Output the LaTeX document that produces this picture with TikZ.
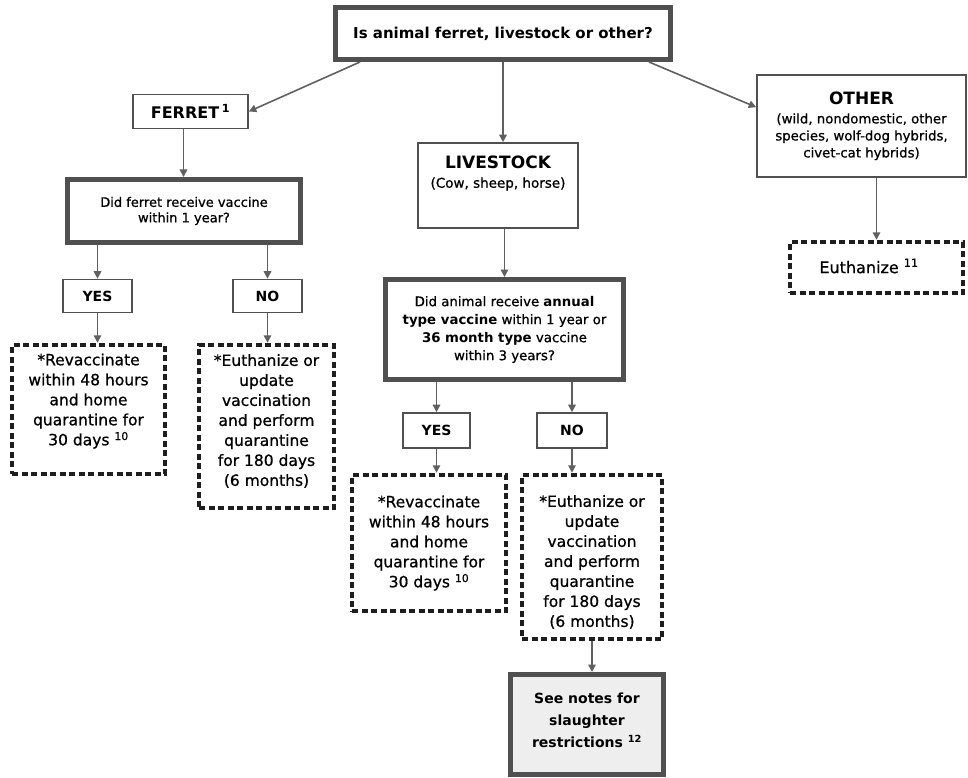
\documentclass[tikz,border=0pt]{standalone}
\usepackage{fontspec}
\setmainfont{DejaVu Sans}[UprightFeatures={FakeBold=0.8}]
\usetikzlibrary{arrows.meta,calc}
\definecolor{boxgray}{HTML}{505050}
\definecolor{arrgray}{HTML}{606060}
\definecolor{dotcol}{HTML}{1E1E1E}
\definecolor{notefill}{HTML}{EEEEEE}
\newcommand\myfs[2]{\fontsize{#1}{#2}\selectfont}
\begin{document}
\begin{tikzpicture}[x=1pt,y=-1pt,
  box/.style={draw=boxgray, line width=1.6pt, fill=white, inner sep=2pt, align=center},
  thickbox/.style={draw=boxgray, line width=5pt, fill=white, inner sep=2pt, align=center},
  dotbox/.style={draw=dotcol, line width=4.5pt, dash pattern=on 6pt off 3.5pt, fill=white, inner sep=2pt},
  plain/.style={inner sep=0pt, align=center},
  arr/.style={draw=arrgray, line width=1.6pt, -{Triangle[length=7.5pt,width=7.5pt]}},
  body/.style={plain, font=\myfs{15.5}{20}},
  yn/.style={box, minimum height=33pt, font=\bfseries\myfs{14}{17}},
]
\useasboundingbox (0,0) rectangle (968,778);

% top
\node[thickbox, minimum width=335pt, minimum height=52pt, font=\bfseries\myfs{15}{18}] (top) at (503,33.5) {Is animal ferret, livestock or other?};

% ferret branch
\node[box, minimum width=115pt, minimum height=34pt, font=\bfseries\myfs{16}{19}] (ferret) at (190.5,111.5) {FERRET\,\textsuperscript{1}};
\node[thickbox, minimum width=233pt, minimum height=63pt, font=\myfs{13}{15.5}] (ferretq) at (184,211) {Did ferret receive vaccine\\within 1 year?};
\node[yn, minimum width=69pt] (yes1) at (97.5,296) {YES};
\node[yn, minimum width=69pt] (no1) at (267.5,296) {NO};
\node[dotbox, minimum width=153pt, minimum height=129pt] (rev1) at (88.5,409.5) {};
\node[body] (rev1t) at (88.5,401) {*Revaccinate\\within 48 hours\\and home\\quarantine for\\30 days \textsuperscript{10}};
\node[dotbox, minimum width=135pt, minimum height=163pt] (euth1) at (266.5,426.5) {};
\node[body] (euth1t) at (266.5,421) {*Euthanize or\\update\\vaccination\\and perform\\quarantine\\for 180 days\\(6 months)};

% livestock branch
\node[box, minimum width=160pt, minimum height=85pt] (live) at (498,185.5) {};
\node[plain, font=\bfseries\myfs{17}{20}] (livetitle) at (498,162) {LIVESTOCK};
\node[plain, font=\myfs{13.5}{16}] (livesub) at (498,184) {(Cow, sheep, horse)};
\node[thickbox, minimum width=238pt, minimum height=100pt, font=\myfs{13.3}{18}] (liveq) at (504.5,329.5) {Did animal receive \textbf{annual}\\\textbf{type vaccine} within 1 year or\\\textbf{36 month type} vaccine\\within 3 years?};
\node[yn, minimum width=67pt, minimum height=35pt] (yes2) at (436.5,430.5) {YES};
\node[yn, minimum width=70pt, minimum height=35pt] (no2) at (572,430.5) {NO};
\node[dotbox, minimum width=154pt, minimum height=136pt] (rev2) at (429,543) {};
\node[body] (rev2t) at (429,543) {*Revaccinate\\within 48 hours\\and home\\quarantine for\\30 days \textsuperscript{10}};
\node[dotbox, minimum width=140pt, minimum height=164pt] (euth2) at (592,557) {};
\node[body] (euth2t) at (592,562) {*Euthanize or\\update\\vaccination\\and perform\\quarantine\\for 180 days\\(6 months)};
\node[thickbox, fill=notefill, minimum width=153pt, minimum height=100pt] (notes) at (587,724.5) {};
\node[plain, font=\bfseries\myfs{14}{22}] (notest) at (587,720) {See notes for\\slaughter\\restrictions \textsuperscript{12}};

% other branch
\node[box, minimum width=209pt, minimum height=102pt, font=\myfs{13.3}{17}] (other) at (861.5,126) {{\bfseries\myfs{17}{19}OTHER}\\[2pt](wild, nondomestic, other\\species, wolf-dog hybrids,\\civet-cat hybrids)};
\node[dotbox, minimum width=173pt, minimum height=51pt] (euth3) at (876.5,267.5) {};
\node[body, font=\myfs{16}{20}] (euth3t) at (869,266) {Euthanize \textsuperscript{11}};

% connectors
\coordinate (fa) at ($(ferret.south)+(-7,0)$);
\draw[arr] ($(top.south west)+(27,0)$) -- (ferret.east);
\draw[arr] (top.south) -- (top.south |- live.north);
\draw[arr] ($(top.south east)+(-24,0)$) -- ($(other.north west)+(0,33)$);

\draw[arr] (fa) -- (fa |- ferretq.north);
\draw[arr] (yes1.north |- ferretq.south) -- (yes1.north);
\draw[arr] (no1.north |- ferretq.south) -- (no1.north);
\draw[arr] (yes1.south) -- (yes1.south |- rev1.north);
\draw[arr] (no1.south) -- (no1.south |- euth1.north);

\draw[arr] (liveq.north |- live.south) -- (liveq.north);
\draw[arr] (yes2.north |- liveq.south) -- (yes2.north);
\draw[arr] (no2.north |- liveq.south) -- (no2.north);
\draw[arr] (yes2.south) -- (yes2.south |- rev2.north);
\draw[arr] (no2.south) -- (no2.south |- euth2.north);
\draw[arr] (euth2.south) -- (euth2.south |- notes.north);

\draw[arr] (euth3.north |- other.south) -- (euth3.north);
\end{tikzpicture}
\end{document}
